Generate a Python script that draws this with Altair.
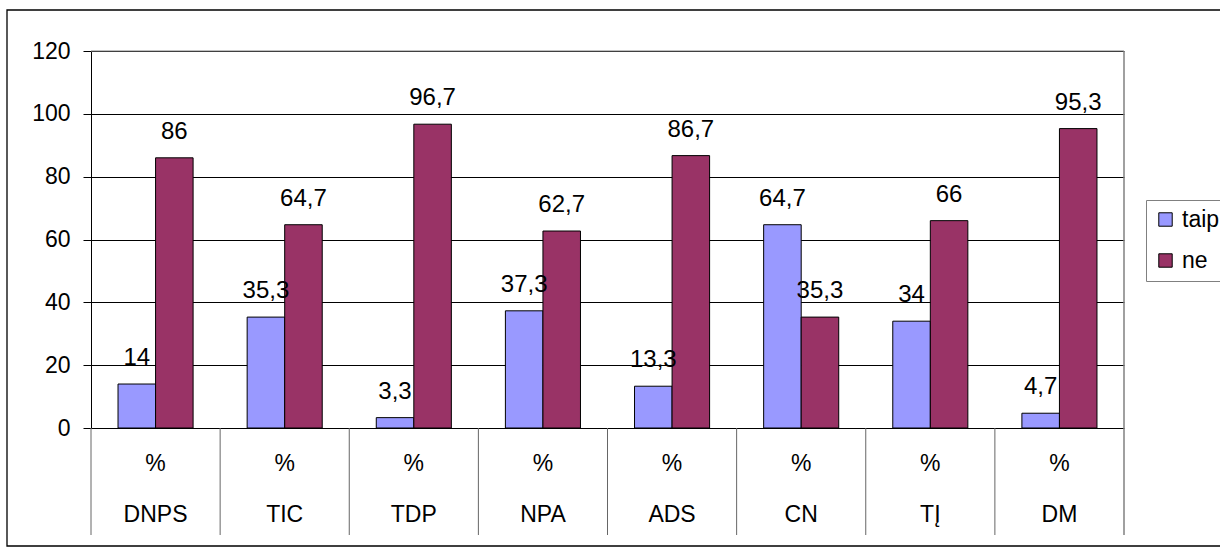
import altair as alt
import pandas as pd

# Survey answers per item (percent of respondents)
categories = ["DNPS", "TIC", "TDP", "NPA", "ADS", "CN", "TĮ", "DM"]
unit_label = "%"
series = ["taip", "ne"]
taip_values = [14, 35.3, 3.3, 37.3, 13.3, 64.7, 34, 4.7]
ne_values = [86, 64.7, 96.7, 62.7, 86.7, 35.3, 66, 95.3]
series_colors = ["#9999FF", "#993366"]
y_ticks = [0, 20, 40, 60, 80, 100, 120]

FONT = "Liberation Sans"
W, H = 1033, 377

rows = []
for cat, t, n in zip(categories, taip_values, ne_values):
    for s, v in (("taip", t), ("ne", n)):
        rows.append({"cat": cat, "series": s, "value": v,
                     "label": f"{v:g}".replace(".", ",")})
df = pd.DataFrame(rows)
cats_df = pd.DataFrame({"cat": categories, "unit": [unit_label] * len(categories)})
one = pd.DataFrame({"k": [0]})

x_enc = alt.X("cat:N", sort=categories,
              scale=alt.Scale(paddingInner=0, paddingOuter=0), axis=None)
xo_enc = alt.XOffset("series:N", sort=series,
                     scale=alt.Scale(paddingInner=0, paddingOuter=0.72))
y_enc = alt.Y("value:Q",
              scale=alt.Scale(domain=[0, 120], nice=False),
              axis=alt.Axis(values=y_ticks, title=None, grid=True,
                            gridColor="#000000", gridWidth=1,
                            domainColor="#000000", tickColor="#000000",
                            tickSize=8, labelPadding=13,
                            labelFont=FONT, labelFontSize=23,
                            labelColor="#000000"))
color_enc = alt.Color(
    "series:N",
    scale=alt.Scale(domain=series, range=series_colors),
    legend=alt.Legend(orient="none", legendX=1055, legendY=149, title=None,
                      symbolType="square", symbolSize=180,
                      symbolStrokeColor="#000000", symbolStrokeWidth=1,
                      labelFont=FONT, labelFontSize=23, labelColor="#000000",
                      rowPadding=17, padding=8, labelOffset=5,
                      strokeColor="#808080", fillColor="#ffffff"),
)

frame = alt.Chart(one).mark_rect(fillOpacity=0, stroke="#000000", strokeWidth=1.3).encode(
    x=alt.value(-84), x2=alt.value(1140), y=alt.value(-41), y2=alt.value(495)
)

bars = alt.Chart(df).mark_bar(stroke="#000000", strokeWidth=1).encode(
    x=x_enc, xOffset=xo_enc, y=y_enc, color=color_enc
)

value_labels = alt.Chart(df).mark_text(
    dy=-19, baseline="alphabetic", align="center",
    font=FONT, fontSize=24, color="#000000"
).encode(x=x_enc, xOffset=xo_enc, y=alt.Y("value:Q"), text="label:N")

separators = alt.Chart(cats_df).mark_rule(color="#666666", strokeWidth=1).encode(
    x=alt.X("cat:N", sort=categories, bandPosition=0),
    y=alt.value(H), y2=alt.value(484)
)

right_edge = alt.Chart(one).mark_rule(color="#808080", strokeWidth=1.5).encode(
    x=alt.value(W), y=alt.value(0), y2=alt.value(484)
)
top_edge = alt.Chart(one).mark_rule(color="#808080", strokeWidth=1).encode(
    x=alt.value(0), x2=alt.value(W), y=alt.value(0)
)

unit_row = alt.Chart(cats_df).mark_text(
    baseline="middle", font=FONT, fontSize=23, color="#000000"
).encode(x=alt.X("cat:N", sort=categories), y=alt.value(413), text="unit:N")

name_row = alt.Chart(cats_df).mark_text(
    baseline="middle", font=FONT, fontSize=23, color="#000000"
).encode(x=alt.X("cat:N", sort=categories), y=alt.value(464), text="cat:N")

chart = alt.layer(
    frame, top_edge, bars, value_labels, separators, right_edge, unit_row, name_row
).properties(
    width=W, height=H,
    autosize=alt.AutoSizeParams(type="none"),
    padding={"left": 91, "top": 51, "right": 96, "bottom": 126},
    background="#ffffff",
).configure_view(stroke=None)

chart.save("out.html", embed_options={"renderer": "svg", "actions": False})
